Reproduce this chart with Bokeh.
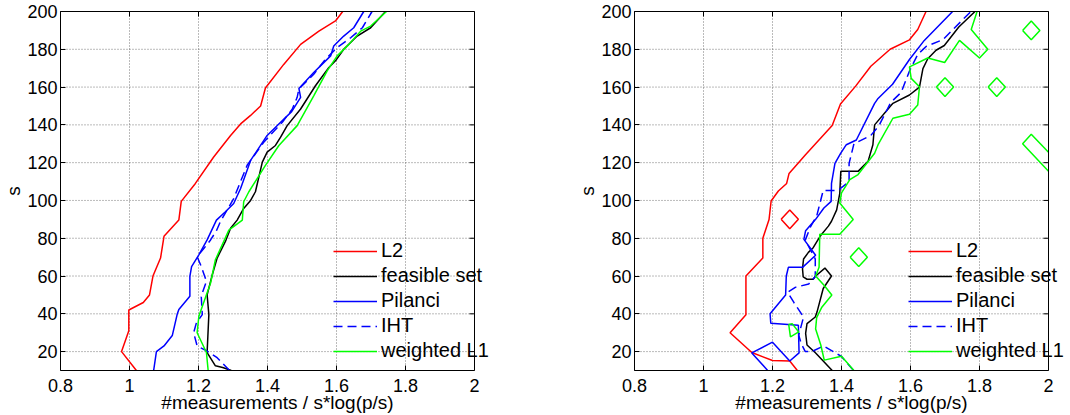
import math
from bokeh.plotting import figure
from bokeh.models import Range1d, FixedTicker, Legend, LegendItem, LinearAxis, Span
from bokeh.layouts import row
from bokeh.embed import file_html
from bokeh.resources import INLINE

# ---------------- data ----------------
X_TICKS = [0.8, 1.0, 1.2, 1.4, 1.6, 1.8, 2.0]
X_TICK_LABELS = ["0.8", "1", "1.2", "1.4", "1.6", "1.8", "2"]
Y_TICKS = [20, 40, 60, 80, 100, 120, 140, 160, 180, 200]
Y_TICK_LABELS = ["20", "40", "60", "80", "100", "120", "140", "160", "180", "200"]
Y_MIN = 10
SERIES_NAMES = ["L2", "feasible set", "Pilanci", "IHT", "weighted L1"]
X_LABEL = "#measurements / s*log(p/s)"
Y_LABEL = "s"

# left panel
L_L2_X = [1.02, 0.977, 0.998, 0.998, 1.04, 1.058, 1.068, 1.09, 1.1, 1.143, 1.15, 1.191, 1.244,
          1.293, 1.322, 1.351, 1.38, 1.394, 1.447, 1.496, 1.549, 1.597, 1.618]
L_L2_Y = [10, 20, 31, 42, 46, 50, 60, 69.5, 81, 89.6, 99.5, 109, 123,
          134.4, 140.5, 145, 150, 159.5, 172, 182.6, 189.6, 195, 200]

L_FS_X = [1.295, 1.27, 1.249, 1.225, 1.23, 1.225, 1.24, 1.254, 1.278, 1.293, 1.312, 1.331, 1.351,
          1.365, 1.385, 1.399, 1.423, 1.438, 1.457, 1.496, 1.539, 1.578, 1.597, 1.621, 1.66, 1.699, 1.742]
L_FS_Y = [10, 11.6, 12.5, 19.5, 39.6, 50, 60.7, 69.5, 78.3, 85.3, 89.6, 95.8, 100,
          104.6, 120.3, 125.6, 129.1, 133.5, 139.6, 148.4, 160.7, 170.4, 173.9, 180, 187, 191.4, 200]

L_PIL_X = [1.07, 1.078, 1.1, 1.124, 1.138, 1.143, 1.175, 1.175, 1.18, 1.201, 1.225, 1.252, 1.278,
           1.302, 1.322, 1.351, 1.399, 1.438, 1.47, 1.496, 1.491, 1.534, 1.583, 1.592, 1.621, 1.65, 1.679]
L_PIL_Y = [10, 20, 23, 28.5, 39.6, 42.3, 49.3, 59.8, 65, 71.2, 79.1, 89.6, 94,
           98.4, 106.3, 121.2, 134.4, 141.4, 147, 154.6, 159.3, 167.7, 176.5, 181.7, 187, 191.4, 200]

L_IHT_X = [1.29, 1.254, 1.225, 1.196, 1.186, 1.194, 1.211, 1.208, 1.211, 1.223, 1.208, 1.196, 1.213,
           1.235, 1.252, 1.264, 1.302, 1.341, 1.389, 1.443, 1.472, 1.486, 1.491, 1.534, 1.568, 1.602,
           1.641, 1.675, 1.703]
L_IHT_Y = [10, 16.8, 20.3, 23, 30, 35.3, 39.6, 49, 51, 57.2, 65, 70.3, 74,
           79.1, 84, 89, 101, 118.6, 130.8, 141.4, 148.4, 154.6, 159, 166.8, 174.7, 180.9,
           186.1, 191.4, 200]

L_WL1_X = [1.228, 1.223, 1.196, 1.201, 1.235, 1.249, 1.288, 1.327, 1.331, 1.346, 1.394, 1.433,
           1.486, 1.534, 1.573, 1.602, 1.636, 1.67, 1.699, 1.745]
L_WL1_Y = [10, 19.5, 30, 38.7, 56.3, 68.6, 84.3, 89.6, 99.3, 104.6, 118.6, 129.1,
           139.6, 155.4, 168.6, 176.5, 182.6, 189.6, 192.3, 200]

# right panel
R_L2_X = [1.272, 1.25, 1.2, 1.14, 1.077, 1.123, 1.123, 1.172, 1.172, 1.19, 1.196, 1.217, 1.241,
          1.248, 1.295, 1.373, 1.397, 1.441, 1.485, 1.541, 1.597, 1.621, 1.645]
R_L2_Y = [10, 15, 15.3, 19.5, 30, 39.5, 60, 69.5, 80, 89.9, 99.7, 105, 109,
          114.3, 124, 139.7, 151, 160.5, 171, 180, 185, 190.5, 200]
R_L2_EXTRA_X = [[1.225, 1.25, 1.275, 1.25, 1.225]]
R_L2_EXTRA_Y = [[90, 95, 90, 85, 90]]

R_FS_X = [1.373, 1.325, 1.3, 1.296, 1.3, 1.324, 1.329, 1.347, 1.371, 1.352, 1.325, 1.318, 1.3,
          1.289, 1.287, 1.29, 1.304, 1.318, 1.333, 1.342, 1.362, 1.371, 1.386, 1.395, 1.398,
          1.448, 1.477, 1.491, 1.496, 1.549, 1.597, 1.626, 1.636, 1.65, 1.674, 1.698, 1.74, 1.787]
R_FS_Y = [10, 19.3, 23.5, 29.7, 34.8, 38.3, 40.9, 53.4, 60, 64.2, 60, 58.3, 58.3,
          59.5, 63.8, 69, 72.5, 75, 79.5, 82, 86.4, 89, 95, 103.8, 115.4,
          115.4, 120.7, 129.5, 140, 151.4, 155.8, 160, 169.8, 175, 179.5, 182, 191.8, 200]

R_PIL_X = [1.186, 1.14, 1.2, 1.25, 1.277, 1.275, 1.195, 1.193, 1.238, 1.24, 1.246, 1.287, 1.325,
           1.291, 1.296, 1.325, 1.349, 1.37, 1.371, 1.381, 1.397, 1.414, 1.443, 1.496, 1.506,
           1.548, 1.597, 1.64, 1.722]
R_PIL_Y = [10, 19.3, 25, 15, 19.3, 34, 35, 40, 50, 60, 64.6, 64.6, 71,
           79.4, 84, 90, 96, 99.5, 109, 119.6, 124.8, 129.5, 132, 151.4, 154,
           161.5, 174.6, 184.7, 200]

R_IHT_X = [1.435, 1.4, 1.348, 1.314, 1.295, 1.283, 1.276, 1.29, 1.262, 1.244, 1.266, 1.305, 1.324,
           1.324, 1.295, 1.31, 1.328, 1.347, 1.39, 1.422, 1.422, 1.436, 1.485, 1.509, 1.543, 1.573,
           1.597, 1.621, 1.646, 1.694, 1.775]
R_IHT_Y = [10, 17.4, 23, 20, 20, 24.3, 28.7, 38.3, 46, 51.4, 54, 55.8, 59.8,
           69, 79, 86, 91.7, 105.3, 105.3, 110, 119.6, 130, 134.4, 139.7, 151.9, 157.2,
           168.5, 177.3, 181.6, 185.1, 200]

R_WL1_X = [1.436, 1.4, 1.35, 1.34, 1.325, 1.328, 1.343, 1.372, 1.35, 1.325, 1.335, 1.337, 1.395,
           1.434, 1.395, 1.4, 1.424, 1.448, 1.496, 1.506, 1.549, 1.597, 1.621, 1.626, 1.602, 1.597,
           1.65, 1.699, 1.742, 1.8, 1.824, 1.776, 1.793]
R_WL1_Y = [10, 17.5, 15.5, 23.5, 32, 38, 43.5, 50, 55, 60, 64.6, 82.1, 82.1,
           89.9, 98.6, 104, 111, 113.7, 125, 129.5, 143.5, 145.6, 150.5, 160.2, 164.6, 170.7,
           175.4, 173, 184.7, 175.4, 180, 190.5, 200]
R_WL1_EXTRA_X = [[1.425, 1.45, 1.475, 1.45, 1.425],
                 [1.675, 1.7, 1.725, 1.7, 1.675],
                 [1.825, 1.85, 1.875, 1.85, 1.825],
                 [1.925, 1.95, 1.975, 1.95, 1.925],
                 [2.0, 1.95, 1.925, 2.0],
                 [1.247, 1.257, 1.276, 1.252, 1.247]]
R_WL1_EXTRA_Y = [[70, 75, 70, 65, 70],
                 [160, 165, 160, 155, 160],
                 [160, 165, 160, 155, 160],
                 [190, 195, 190, 185, 190],
                 [125.5, 135, 130, 115.5],
                 [34.4, 34.8, 30.4, 27.8, 34.4]]

# ---------------- styling ----------------
COLORS = ["#ff0000", "#000000", "#0000ff", "#0000ff", "#00ff00"]
DASHES = ["solid", "solid", "solid", "9 5", "solid"]
FONT = "Liberation Sans"
TICK_SIZE = "18px"
LABEL_SIZE = "19px"
LEGEND_SIZE = "20px"
GRID_COLOR = "#555555"
BOX_PX = 414  # pixel width of the 0.8..2 data box


def make_panel(width, border_left, border_right, main, extras, legend_x):
    x0, x1 = X_TICKS[0], X_TICKS[-1]
    y0, y1 = Y_MIN, Y_TICKS[-1]
    frame_px = width - border_left - border_right
    # frame is slightly wider than the data box so that the legend text can overhang it
    x_view_end = x0 + (x1 - x0) * frame_px / BOX_PX
    p = figure(width=width, height=415, x_range=Range1d(x0, x_view_end), y_range=Range1d(y0, y1),
               output_backend="svg", toolbar_location=None,
               min_border_left=border_left, min_border_right=border_right,
               min_border_top=11, min_border_bottom=44)
    p.background_fill_color = "white"
    p.border_fill_color = "white"
    p.outline_line_color = None

    # top edge of the box with inward ticks (no labels)
    top = LinearAxis(ticker=FixedTicker(ticks=X_TICKS), bounds=(x0, x1),
                     major_tick_in=5, major_tick_out=0, minor_tick_line_color=None,
                     major_label_text_font_size="0px", major_label_text_color=None,
                     major_label_standoff=0, axis_line_color="black",
                     major_tick_line_color="black")
    p.add_layout(top, "above")

    bottom = p.below[0]
    left = p.left[0]
    bottom.ticker = FixedTicker(ticks=X_TICKS)
    bottom.major_label_overrides = dict(zip(X_TICKS, X_TICK_LABELS))
    bottom.bounds = (x0, x1)
    left.ticker = FixedTicker(ticks=Y_TICKS)
    left.major_label_overrides = dict(zip(Y_TICKS, Y_TICK_LABELS))
    bottom.axis_label = X_LABEL
    left.axis_label = Y_LABEL
    for ax in (bottom, left):
        ax.axis_line_color = "black"
        ax.axis_line_width = 1
        ax.major_tick_line_color = "black"
        ax.major_tick_in = 5
        ax.major_tick_out = 0
        ax.minor_tick_line_color = None
        ax.major_label_text_font = FONT
        ax.major_label_text_font_size = TICK_SIZE
        ax.major_label_text_color = "black"
        ax.axis_label_text_font = FONT
        ax.axis_label_text_font_size = LABEL_SIZE
        ax.axis_label_text_font_style = "normal"
        ax.axis_label_text_color = "black"
    bottom.major_label_standoff = 8
    bottom.axis_label_standoff = -3
    left.major_label_standoff = 3
    left.axis_label_standoff = 0

    # vertical grid from the x axis ticker, horizontal grid drawn only over the data box
    p.xgrid.grid_line_color = GRID_COLOR
    p.xgrid.grid_line_alpha = 0.8
    p.xgrid.grid_line_dash = "1 2"
    p.ygrid.visible = False
    gx = [[x0, x1] for t in Y_TICKS[:-1]]
    gy = [[t, t] for t in Y_TICKS[:-1]]
    p.multi_line(gx, gy, line_color=GRID_COLOR, line_alpha=0.8, line_dash="1 2", line_width=1)

    # right edge of the box with inward ticks
    p.add_layout(Span(location=x1, dimension="height", line_color="black", line_width=1))
    p.ray(x=[x1] * len(Y_TICKS), y=Y_TICKS, length=5, length_units="screen",
          angle=math.pi, line_color="black", line_width=1)

    items = []
    for (name, xs, ys), color, dash in zip(main, COLORS, DASHES):
        r = p.line(xs, ys, line_color=color, line_width=1.5, line_dash=dash)
        items.append(LegendItem(label=name, renderers=[r]))
    for (exs, eys), color in extras:
        p.multi_line(exs, eys, line_color=color, line_width=1.5)

    legend = Legend(items=items, location=(legend_x, 8))
    legend.border_line_color = None
    legend.background_fill_alpha = 0
    legend.padding = 0
    legend.margin = 0
    legend.spacing = 2
    legend.glyph_width = 44
    legend.glyph_height = 22
    legend.label_height = 22
    legend.label_standoff = 4
    legend.label_text_font = FONT
    legend.label_text_font_size = LEGEND_SIZE
    legend.label_text_color = "black"
    p.add_layout(legend, "center")
    return p


left_main = [(SERIES_NAMES[0], L_L2_X, L_L2_Y), (SERIES_NAMES[1], L_FS_X, L_FS_Y),
             (SERIES_NAMES[2], L_PIL_X, L_PIL_Y), (SERIES_NAMES[3], L_IHT_X, L_IHT_Y),
             (SERIES_NAMES[4], L_WL1_X, L_WL1_Y)]
right_main = [(SERIES_NAMES[0], R_L2_X, R_L2_Y), (SERIES_NAMES[1], R_FS_X, R_FS_Y),
              (SERIES_NAMES[2], R_PIL_X, R_PIL_Y), (SERIES_NAMES[3], R_IHT_X, R_IHT_Y),
              (SERIES_NAMES[4], R_WL1_X, R_WL1_Y)]
right_extras = [((R_L2_EXTRA_X, R_L2_EXTRA_Y), COLORS[0]),
                ((R_WL1_EXTRA_X, R_WL1_EXTRA_Y), COLORS[4])]

# left canvas 0..540 (frame 60..494), right canvas 540..1070 (frame 634..1068)
p1 = make_panel(540, 60, 46, left_main, [], 273)
p2 = make_panel(530, 94, 2, right_main, right_extras, 274)

layout = row(p1, p2)
open("out.html", "w").write(file_html(layout, INLINE))
